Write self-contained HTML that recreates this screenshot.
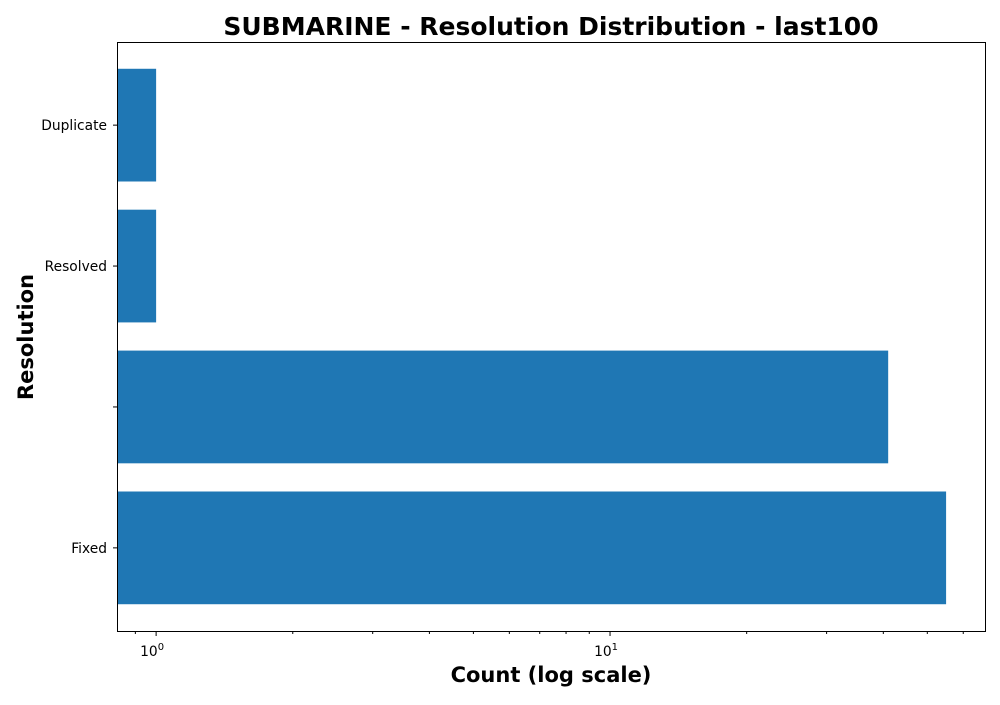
<!DOCTYPE html>
<html><head><meta charset="utf-8"><style>
body{margin:0;background:#fff}
svg text{font-family:"DejaVu Sans","Liberation Sans",sans-serif}
</style></head><body>
<svg id="chart" width="1000" height="700" xmlns="http://www.w3.org/2000/svg">
<text x="551" y="35" text-anchor="middle" font-size="25" font-weight="bold">SUBMARINE - Resolution Distribution - last100</text>
<text x="551" y="682" text-anchor="middle" font-size="21" font-weight="bold">Count (log scale)</text>
<text transform="translate(33,337) rotate(-90)" text-anchor="middle" font-size="21" font-weight="bold">Resolution</text>
<g id="bars"></g><g id="ticks"></g>
<rect x="117.5" y="42.5" width="868" height="589" fill="none" stroke="#000" stroke-width="1"/>
</svg>
<script>
const categories = ["Fixed", "", "Resolved", "Duplicate"];
const counts = [55, 41, 1, 1];
const xTickValues = [1, 10];
const xTickLabels = ["0", "1"];
const NS = "http://www.w3.org/2000/svg";
const L = 117, R = 985, T = 42, B = 631;
const xMin = Math.log10(0.82), xMax = Math.log10(67);
const x = v => L + (Math.log10(v) - xMin) / (xMax - xMin) * (R - L);
const yMin = -0.59, yMax = 3.59;
const y = i => B - (i - yMin) / (yMax - yMin) * (B - T);
const bh = 0.8 * (B - T) / (yMax - yMin);
const bars = document.getElementById('bars'), ticks = document.getElementById('ticks');
function mk(tag, attrs, parent) { const e = document.createElementNS(NS, tag); for (const k in attrs) e.setAttribute(k, attrs[k]); parent.appendChild(e); return e; }
categories.forEach((c, i) => {
  const r = mk('rect', {x: L, y: y(i) - bh / 2, width: x(counts[i]) - L, height: bh, fill: '#1f77b4'}, bars);
  
  
  const t = mk('line', {x1: L - 4, x2: L, y1: y(i), y2: y(i), stroke: '#000'}, ticks);
  
  
  const lb = mk('text', {x: L - 10, y: y(i) + 5, 'text-anchor': 'end', 'font-size': 13.8}, ticks);
  lb.textContent = c;
  
  
});
xTickValues.forEach((v, i) => {
  const t = mk('line', {x1: x(v), x2: x(v), y1: B, y2: B + 5, stroke: '#000'}, ticks);
  
  
  const lb = mk('text', {x: x(v) - 4, y: B + 25, 'text-anchor': 'middle', 'font-size': 13.8}, ticks);
  lb.textContent = '10';
  const s = mk('tspan', {dy: -6, 'font-size': 10}, lb);
  s.textContent = xTickLabels[i];
  
  
});
[0.9, 2, 3, 4, 5, 6, 7, 8, 9, 20, 30, 40, 50, 60].forEach(v => {
  const t = mk('line', {x1: x(v), x2: x(v), y1: B, y2: B + 3, stroke: '#000'}, ticks);
  
  
});
</script>
</body></html>
